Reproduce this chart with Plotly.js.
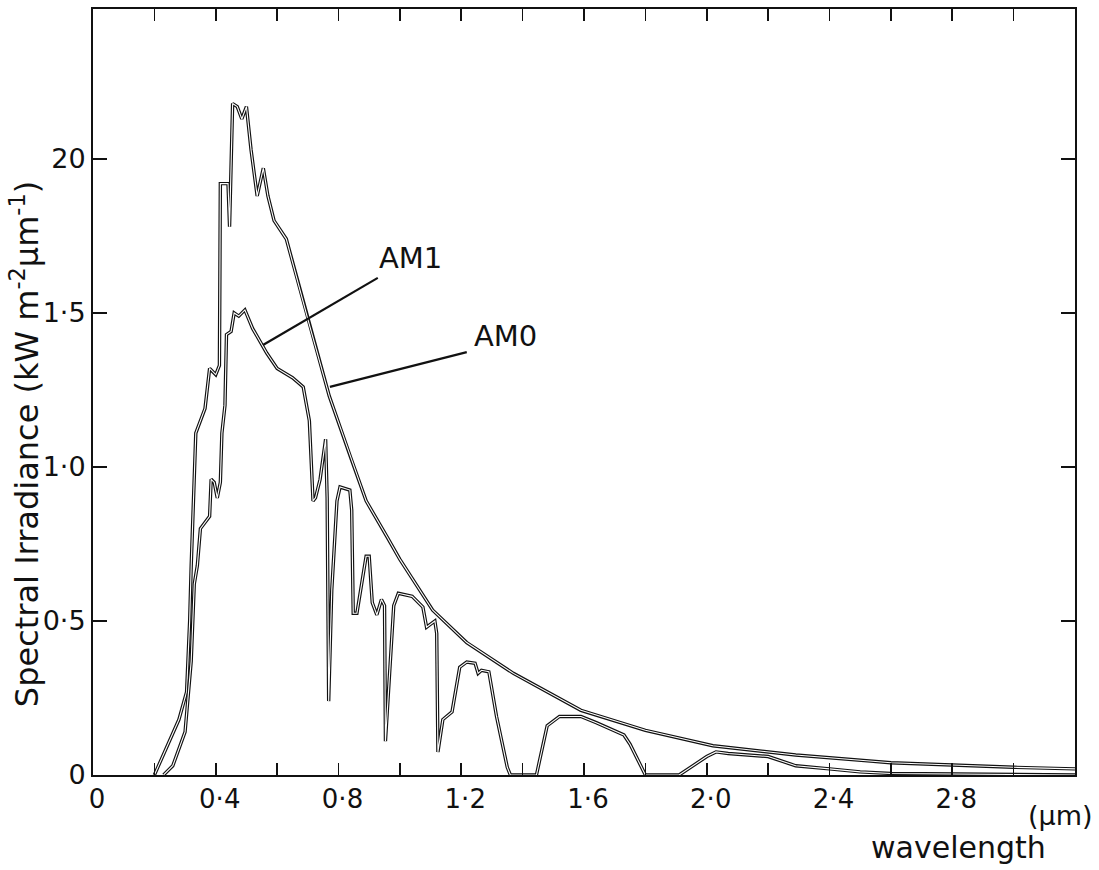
<!DOCTYPE html>
<html>
<head>
<meta charset="utf-8">
<script src="https://cdn.plot.ly/plotly-3.0.1.min.js"></script>
<style>html,body{margin:0;padding:0;background:#fff;}</style>
</head>
<body>
<div id="chart" style="width:1099px;height:870px;"></div>
<script>
// AM0 (extraterrestrial) spectrum, wavelength in µm, irradiance in kW m^-2 µm^-1
var wlAM0 = [0.20,0.24,0.28,0.305,0.315,0.32,0.325,0.33,0.335,0.365,0.38,0.40,0.412,0.415,0.44,0.445,0.455,0.47,0.485,0.50,0.515,0.535,0.555,0.57,0.59,0.63,0.665,0.70,0.77,0.84,0.89,0.96,1.00,1.107,1.218,1.37,1.59,1.80,2.02,2.29,2.60,3.00,3.20];
var am0   = [0,0.09,0.18,0.27,0.50,0.68,0.85,1.00,1.11,1.19,1.32,1.30,1.33,1.92,1.92,1.78,2.18,2.17,2.13,2.17,2.03,1.88,1.97,1.88,1.80,1.74,1.61,1.48,1.23,1.03,0.89,0.77,0.70,0.535,0.43,0.33,0.21,0.145,0.095,0.065,0.04,0.025,0.02];

// AM1 (sea level) spectrum
var wlAM1 = [0.23,0.26,0.30,0.32,0.33,0.34,0.35,0.38,0.385,0.395,0.405,0.415,0.42,0.43,0.435,0.45,0.46,0.475,0.495,0.52,0.566,0.60,0.65,0.685,0.705,0.717,0.725,0.74,0.758,0.763,0.768,0.778,0.795,0.805,0.837,0.843,0.848,0.86,0.89,0.90,0.91,0.925,0.94,0.95,0.953,0.965,0.98,0.995,1.04,1.075,1.087,1.114,1.12,1.124,1.14,1.17,1.195,1.218,1.245,1.255,1.266,1.29,1.315,1.35,1.36,1.445,1.48,1.52,1.59,1.64,1.73,1.75,1.80,1.91,2.00,2.03,2.07,2.20,2.29,2.40,2.50,2.60,2.80,3.20];
var am1   = [0,0.03,0.14,0.37,0.62,0.68,0.80,0.84,0.96,0.95,0.90,0.95,1.11,1.20,1.43,1.44,1.50,1.49,1.51,1.45,1.37,1.32,1.29,1.26,1.15,0.89,0.90,0.96,1.09,0.90,0.24,0.60,0.89,0.935,0.925,0.86,0.525,0.525,0.71,0.71,0.56,0.52,0.57,0.55,0.11,0.30,0.55,0.59,0.58,0.545,0.48,0.50,0.46,0.075,0.18,0.205,0.35,0.367,0.363,0.33,0.34,0.335,0.19,0.025,0,0,0.16,0.19,0.19,0.17,0.13,0.10,0,0,0.06,0.075,0.07,0.06,0.03,0.02,0.01,0.005,0.003,0];

// Axis ticks and labels
var xTickVals = [0,0.4,0.8,1.2,1.6,2.0,2.4,2.8];
var xTickText = ['0','0·4','0·8','1·2','1·6','2·0','2·4','2·8'];
var xMinorStep = 0.2;
var yTickVals = [0,0.5,1.0,1.5,2.0];
var yTickText = ['0','0·5','1·0','1·5','20'];

// Curve labels and their pointer lines [x_text_end, y_text_end, x_curve, y_curve]
var labelText = ['AM1','AM0'];
var labelX = [1.036,1.345];
var labelY = [1.679,1.425];
var pointers = [[0.928,1.614,0.554,1.396],[1.218,1.373,0.772,1.26]];

var FONT = 'DejaVu Sans, sans-serif';
var INK = '#111';

function outlined(x, y, name) {
  return [
    {x:x, y:y, type:'scatter', mode:'lines', name:name, line:{color:INK, width:3.4}, hoverinfo:'skip'},
    {x:x, y:y, type:'scatter', mode:'lines', name:name+' inner', line:{color:'#fff', width:1.1}, hoverinfo:'skip'}
  ];
}

var data = [].concat(outlined(wlAM0, am0, 'AM0'), outlined(wlAM1, am1, 'AM1'));

var annotations = labelText.map(function(t, i){
  return {x:labelX[i], y:labelY[i], xref:'x', yref:'y', text:t, showarrow:false,
          font:{family:FONT, size:29, color:INK}, xanchor:'center', yanchor:'middle'};
});
annotations.push({x:0.985, y:-0.0535, xref:'paper', yref:'paper', text:'(µm)', showarrow:false,
  font:{family:FONT, size:27, color:INK}, xanchor:'center', yanchor:'middle'});
annotations.push({x:0.881, y:-0.0953, xref:'paper', yref:'paper', text:'wavelength', showarrow:false,
  font:{family:FONT, size:30, color:INK}, xanchor:'center', yanchor:'middle'});
annotations.push({x:-0.0692, y:0.432, xref:'paper', yref:'paper', textangle:-90,
  text:'Spectral Irradiance (kW m<sup>-2</sup>µm<sup>-1</sup>)', showarrow:false,
  font:{family:FONT, size:32, color:INK}, xanchor:'center', yanchor:'middle'});

var shapes = pointers.map(function(p){
  return {type:'line', xref:'x', yref:'y', x0:p[0], y0:p[1], x1:p[2], y1:p[3],
          line:{color:INK, width:2.2}};
});

var layout = {
  width:1099, height:870,
  margin:{l:93, r:24, t:9, b:95},
  paper_bgcolor:'#fff', plot_bgcolor:'#fff',
  showlegend:false,
  xaxis:{
    range:[0,3.2], showline:true, linecolor:INK, linewidth:2, mirror:'ticks',
    ticks:'inside', ticklen:12, tickwidth:1.6, tickcolor:INK,
    tickmode:'array', tickvals:xTickVals, ticktext:xTickText,
    minor:{dtick:xMinorStep, tick0:0, ticks:'inside', ticklen:12, tickwidth:1.6, tickcolor:INK, showgrid:false},
    tickfont:{family:FONT, size:26, color:INK},
    ticklabelshift:4,
    showgrid:false, zeroline:false
  },
  yaxis:{
    range:[0,2.487], showline:true, linecolor:INK, linewidth:2, mirror:'ticks',
    ticks:'inside', ticklen:14, tickwidth:1.6, tickcolor:INK,
    tickmode:'array', tickvals:yTickVals, ticktext:yTickText,
    tickfont:{family:FONT, size:27, color:INK},
    showgrid:false, zeroline:false
  },
  annotations:annotations,
  shapes:shapes
};

Plotly.newPlot('chart', data, layout, {staticPlot:true, displayModeBar:false});
</script>
</body>
</html>
